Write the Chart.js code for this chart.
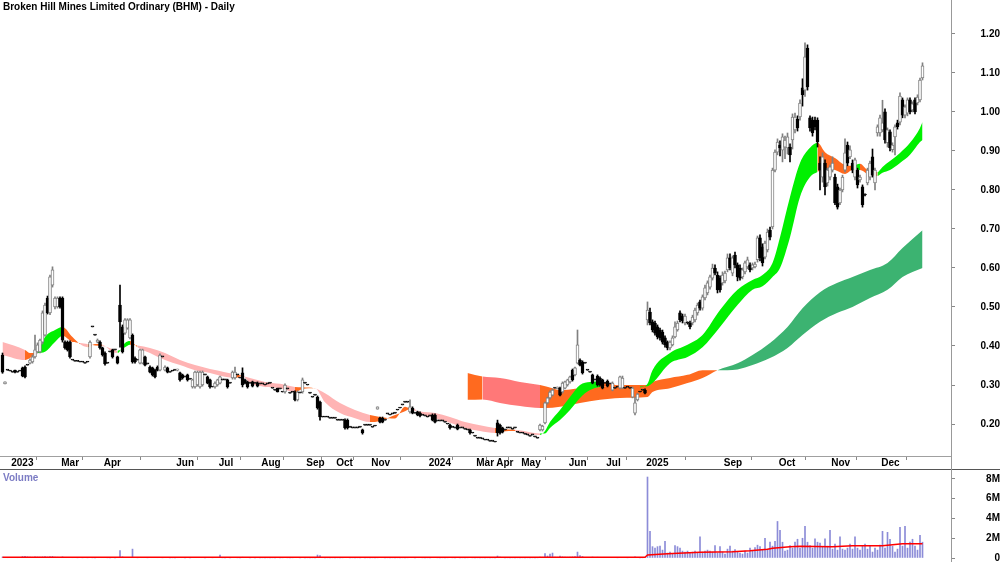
<!DOCTYPE html>
<html>
<head>
<meta charset="utf-8">
<title>BHM Daily</title>
<script src="https://cdn.jsdelivr.net/npm/chart.js@4.4.1/dist/chart.umd.min.js"></script>
<style>
body { margin: 0; background: #fff; }
#wrap { position: relative; width: 1000px; height: 562px; overflow: hidden; background: #fff; font-family: "Liberation Sans", Arial, sans-serif; }
.pane { position: absolute; left: 0; width: 1000px; }
#pricePane { top: 0; height: 470px; }
#volPane { top: 470px; height: 92px; }
.title { position: absolute; left: 3px; top: 1px; font-size: 10px; font-weight: bold; color: #000; white-space: nowrap; }
.vol-title { position: absolute; left: 3px; top: 472px; font-size: 10px; font-weight: bold; color: #7c7cc4; }
.hline { position: absolute; left: 0; top: 469px; width: 1000px; height: 1px; background: #555; }
.vline { position: absolute; left: 951px; top: 0; width: 1px; height: 562px; background: #999; }
</style>
</head>
<body>
<div id="wrap">
  <div class="pane" id="pricePane"><canvas id="priceChart"></canvas></div>
  <div class="pane" id="volPane"><canvas id="volChart"></canvas></div>
  <div class="hline"></div>
  <div class="vline"></div>
  <div class="title">Broken Hill Mines Limited Ordinary (BHM) - Daily</div>
  <div class="vol-title">Volume</div>
</div>
<script>
// daily bars, one per trading day (index 0 = first bar on the chart)
const open = [
0.377,0.303,0.338,0.336,0.333,0.338,0.333,0.336,0.344,0.346,
0.351,0.356,0.359,0.372,0.385,0.385,0.410,0.428,0.523,0.485,
0.556,0.500,0.500,0.523,0.523,0.410,0.410,0.410,0.364,0.361,
0.361,0.359,0.359,0.356,0.359,0.372,0.449,0.428,0.410,0.410,
0.395,0.382,0.356,0.385,0.390,0.390,0.372,0.505,0.449,0.433,
0.446,0.421,0.428,0.369,0.364,0.356,0.356,0.372,0.354,0.346,
0.344,0.338,0.346,0.338,0.372,0.338,0.344,0.333,0.336,0.338,
0.338,0.331,0.326,0.321,0.326,0.315,0.295,0.295,0.300,0.295,
0.300,0.326,0.321,0.313,0.295,0.295,0.300,0.305,0.313,0.313,
0.313,0.305,0.318,0.318,0.326,0.318,0.331,0.313,0.308,0.305,
0.308,0.305,0.305,0.303,0.303,0.300,0.303,0.305,0.292,0.287,
0.292,0.290,0.282,0.282,0.290,0.279,0.282,0.282,0.262,0.280,
0.282,0.305,0.300,0.279,0.269,0.274,0.269,0.256,0.218,0.218,
0.218,0.215,0.215,0.215,0.210,0.210,0.210,0.210,0.210,0.192,
0.190,0.190,0.190,0.192,0.185,0.197,0.197,0.197,0.192,0.195,
0.238,0.215,0.215,0.210,0.226,0.223,0.226,0.228,0.236,0.241,
0.249,0.256,0.256,0.231,0.241,0.228,0.231,0.228,0.223,0.221,
0.218,0.221,0.223,0.223,0.208,0.208,0.208,0.205,0.200,0.197,
0.192,0.190,0.197,0.190,0.190,0.187,0.185,0.185,0.177,0.169,
0.164,0.164,0.162,0.159,0.159,0.156,0.156,0.154,0.203,0.197,
0.190,0.185,0.190,0.190,0.187,0.190,0.179,0.177,0.177,0.174,
0.172,0.169,0.172,0.167,0.164,0.185,0.185,0.203,0.254,0.267,
0.274,0.292,0.290,0.292,0.282,0.292,0.300,0.308,0.338,0.326,
0.356,0.364,0.359,0.356,0.338,0.333,0.326,0.313,0.323,0.318,
0.313,0.305,0.310,0.303,0.287,0.292,0.295,0.292,0.292,0.292,
0.295,0.292,0.269,0.228,0.262,0.282,0.287,0.287,0.467,0.487,
0.462,0.459,0.449,0.441,0.436,0.421,0.410,0.395,0.403,0.423,
0.441,0.485,0.477,0.459,0.459,0.459,0.459,0.467,0.485,0.513,
0.497,0.523,0.536,0.551,0.574,0.600,0.582,0.574,0.562,0.567,
0.595,0.626,0.587,0.633,0.608,0.600,0.577,0.590,0.603,0.608,
0.600,0.603,0.621,0.677,0.654,0.628,0.646,0.697,0.705,0.851,
0.897,0.915,0.902,0.910,0.908,0.910,0.928,0.954,0.982,0.987,
1.062,1.056,1.164,0.985,0.979,0.979,0.979,0.869,0.833,0.869,
0.818,0.833,0.851,0.833,0.808,0.767,0.800,0.851,0.915,0.885,
0.869,0.833,0.851,0.826,0.808,0.787,0.818,0.833,0.885,0.818,
0.946,0.946,0.954,1.000,0.921,0.949,0.903,0.936,0.972,0.974,
1.031,0.992,0.997,1.031,1.005,1.031,1.023,1.031,1.087
];
const high = [
0.382,0.308,0.338,0.336,0.333,0.338,0.333,0.336,0.346,0.349,
0.351,0.367,0.377,0.428,0.408,0.418,0.490,0.510,0.528,0.582,
0.603,0.526,0.526,0.526,0.526,0.413,0.413,0.413,0.364,0.361,
0.361,0.359,0.359,0.356,0.359,0.413,0.449,0.428,0.418,0.413,
0.397,0.385,0.356,0.385,0.392,0.390,0.374,0.556,0.454,0.470,
0.470,0.470,0.431,0.372,0.364,0.392,0.392,0.374,0.354,0.349,
0.346,0.341,0.349,0.380,0.372,0.349,0.346,0.333,0.336,0.338,
0.341,0.333,0.328,0.321,0.328,0.315,0.315,0.336,0.336,0.336,
0.336,0.326,0.323,0.315,0.295,0.308,0.315,0.323,0.313,0.313,
0.315,0.305,0.336,0.346,0.326,0.318,0.344,0.315,0.310,0.305,
0.310,0.305,0.308,0.303,0.303,0.300,0.303,0.305,0.292,0.287,
0.292,0.290,0.282,0.303,0.290,0.279,0.282,0.285,0.285,0.280,
0.318,0.305,0.300,0.279,0.269,0.274,0.272,0.259,0.218,0.218,
0.218,0.215,0.215,0.215,0.210,0.210,0.210,0.213,0.213,0.192,
0.190,0.190,0.190,0.192,0.187,0.197,0.197,0.197,0.192,0.195,
0.244,0.218,0.218,0.210,0.226,0.223,0.226,0.228,0.236,0.241,
0.249,0.256,0.256,0.262,0.244,0.228,0.233,0.231,0.223,0.221,
0.218,0.221,0.226,0.226,0.208,0.208,0.208,0.205,0.200,0.200,
0.192,0.190,0.200,0.190,0.190,0.187,0.185,0.187,0.177,0.169,
0.164,0.164,0.162,0.159,0.159,0.156,0.156,0.154,0.210,0.200,
0.192,0.185,0.190,0.190,0.187,0.190,0.179,0.177,0.177,0.174,
0.172,0.169,0.172,0.167,0.164,0.200,0.197,0.256,0.269,0.285,
0.290,0.292,0.295,0.295,0.308,0.310,0.315,0.323,0.341,0.346,
0.441,0.367,0.362,0.356,0.338,0.333,0.328,0.313,0.326,0.321,
0.315,0.305,0.313,0.303,0.308,0.292,0.295,0.323,0.323,0.292,
0.295,0.292,0.295,0.269,0.279,0.282,0.287,0.290,0.513,0.497,
0.467,0.464,0.454,0.446,0.441,0.426,0.413,0.413,0.426,0.462,
0.464,0.490,0.482,0.482,0.462,0.464,0.479,0.497,0.510,0.518,
0.531,0.556,0.567,0.582,0.610,0.608,0.590,0.580,0.590,0.592,
0.636,0.636,0.631,0.641,0.613,0.608,0.600,0.618,0.628,0.613,
0.613,0.615,0.682,0.685,0.662,0.669,0.700,0.705,0.856,0.903,
0.931,0.926,0.944,0.938,0.946,0.918,0.995,0.997,0.990,1.031,
1.085,1.177,1.172,0.990,0.987,0.987,0.985,0.885,0.895,0.877,
0.856,0.864,0.885,0.841,0.815,0.805,0.838,0.931,0.923,0.913,
0.877,0.882,0.856,0.838,0.813,0.790,0.856,0.874,0.905,0.856,
0.967,0.992,1.030,1.008,0.959,0.954,0.921,0.967,0.979,1.049,
1.036,1.018,1.036,1.036,1.026,1.036,1.044,1.087,1.126
];
const low = [
0.330,0.303,0.338,0.336,0.333,0.331,0.333,0.336,0.321,0.318,
0.351,0.354,0.356,0.369,0.382,0.382,0.405,0.425,0.482,0.480,
0.551,0.495,0.497,0.497,0.410,0.392,0.387,0.369,0.364,0.361,
0.361,0.359,0.359,0.356,0.359,0.369,0.449,0.428,0.408,0.392,
0.374,0.351,0.356,0.385,0.369,0.390,0.354,0.397,0.382,0.430,
0.443,0.418,0.356,0.356,0.364,0.354,0.354,0.349,0.354,0.331,
0.323,0.318,0.336,0.336,0.372,0.336,0.331,0.333,0.336,0.338,
0.336,0.310,0.315,0.321,0.310,0.315,0.292,0.292,0.297,0.292,
0.297,0.326,0.303,0.292,0.295,0.292,0.297,0.303,0.313,0.313,
0.292,0.305,0.315,0.315,0.326,0.318,0.295,0.303,0.292,0.305,
0.295,0.305,0.295,0.303,0.303,0.300,0.303,0.305,0.292,0.287,
0.282,0.290,0.282,0.279,0.290,0.279,0.282,0.259,0.259,0.280,
0.279,0.305,0.300,0.279,0.269,0.274,0.238,0.210,0.218,0.218,
0.218,0.215,0.215,0.215,0.210,0.210,0.210,0.187,0.187,0.192,
0.190,0.190,0.190,0.192,0.174,0.197,0.197,0.197,0.192,0.195,
0.238,0.203,0.203,0.210,0.226,0.223,0.226,0.228,0.236,0.241,
0.249,0.256,0.256,0.228,0.226,0.228,0.221,0.218,0.223,0.221,
0.218,0.221,0.208,0.203,0.208,0.208,0.208,0.205,0.200,0.187,
0.192,0.190,0.185,0.190,0.190,0.187,0.185,0.174,0.177,0.169,
0.164,0.164,0.162,0.159,0.159,0.156,0.156,0.154,0.169,0.174,
0.177,0.185,0.190,0.190,0.187,0.190,0.179,0.177,0.177,0.174,
0.172,0.169,0.172,0.167,0.164,0.182,0.182,0.200,0.251,0.264,
0.272,0.292,0.290,0.272,0.279,0.290,0.297,0.305,0.310,0.323,
0.354,0.349,0.328,0.356,0.338,0.333,0.303,0.313,0.297,0.297,
0.290,0.305,0.295,0.303,0.285,0.292,0.295,0.290,0.290,0.292,
0.295,0.292,0.267,0.223,0.259,0.282,0.287,0.277,0.454,0.454,
0.436,0.428,0.418,0.415,0.405,0.397,0.390,0.390,0.400,0.421,
0.438,0.462,0.459,0.454,0.456,0.444,0.454,0.462,0.479,0.492,
0.492,0.518,0.531,0.546,0.569,0.582,0.536,0.538,0.556,0.562,
0.590,0.595,0.580,0.600,0.567,0.569,0.572,0.585,0.598,0.590,
0.595,0.600,0.615,0.618,0.605,0.623,0.641,0.672,0.700,0.846,
0.890,0.887,0.872,0.880,0.892,0.872,0.905,0.946,0.951,0.979,
1.015,1.040,1.056,0.951,0.938,0.954,0.910,0.800,0.820,0.787,
0.810,0.826,0.846,0.762,0.751,0.762,0.795,0.846,0.862,0.880,
0.844,0.826,0.805,0.820,0.756,0.785,0.813,0.826,0.833,0.800,
0.938,0.938,0.949,0.920,0.910,0.900,0.897,0.890,0.956,0.967,
0.985,0.985,0.990,0.995,1.000,0.995,1.018,1.026,1.082
];
const close = [
0.333,0.308,0.338,0.336,0.333,0.333,0.333,0.336,0.323,0.321,
0.351,0.364,0.372,0.390,0.403,0.415,0.485,0.505,0.485,0.577,
0.595,0.523,0.523,0.500,0.415,0.395,0.390,0.372,0.364,0.361,
0.361,0.359,0.359,0.356,0.359,0.410,0.449,0.428,0.415,0.395,
0.377,0.354,0.356,0.385,0.372,0.390,0.356,0.462,0.385,0.467,
0.467,0.467,0.359,0.359,0.364,0.390,0.390,0.351,0.354,0.333,
0.326,0.321,0.338,0.377,0.372,0.346,0.333,0.333,0.336,0.338,
0.341,0.313,0.318,0.321,0.313,0.315,0.313,0.333,0.333,0.333,
0.333,0.326,0.305,0.295,0.295,0.305,0.313,0.321,0.313,0.313,
0.295,0.305,0.333,0.333,0.326,0.318,0.300,0.305,0.295,0.305,
0.297,0.305,0.297,0.303,0.303,0.300,0.303,0.305,0.292,0.287,
0.282,0.290,0.282,0.300,0.290,0.279,0.282,0.262,0.282,0.280,
0.313,0.305,0.300,0.279,0.269,0.274,0.241,0.218,0.218,0.218,
0.218,0.215,0.215,0.215,0.210,0.210,0.210,0.190,0.190,0.192,
0.190,0.190,0.190,0.192,0.177,0.197,0.197,0.197,0.192,0.195,
0.244,0.205,0.205,0.210,0.226,0.223,0.226,0.228,0.236,0.241,
0.249,0.256,0.256,0.244,0.228,0.228,0.223,0.221,0.223,0.221,
0.218,0.221,0.210,0.205,0.208,0.208,0.208,0.205,0.200,0.190,
0.192,0.190,0.187,0.190,0.190,0.187,0.185,0.177,0.177,0.169,
0.164,0.164,0.162,0.159,0.159,0.156,0.156,0.154,0.177,0.177,
0.179,0.185,0.190,0.190,0.187,0.190,0.179,0.177,0.177,0.174,
0.172,0.169,0.172,0.167,0.164,0.197,0.195,0.254,0.267,0.282,
0.287,0.292,0.295,0.274,0.305,0.308,0.313,0.321,0.313,0.344,
0.403,0.351,0.331,0.356,0.338,0.333,0.305,0.313,0.300,0.300,
0.292,0.305,0.297,0.303,0.305,0.292,0.295,0.321,0.318,0.292,
0.295,0.292,0.292,0.254,0.277,0.282,0.287,0.279,0.492,0.459,
0.441,0.433,0.423,0.421,0.410,0.403,0.395,0.410,0.421,0.449,
0.459,0.467,0.464,0.477,0.459,0.449,0.474,0.492,0.505,0.497,
0.526,0.549,0.562,0.577,0.600,0.587,0.544,0.544,0.582,0.587,
0.626,0.600,0.626,0.608,0.577,0.574,0.595,0.613,0.621,0.595,
0.608,0.610,0.677,0.626,0.613,0.664,0.692,0.679,0.851,0.897,
0.923,0.908,0.936,0.928,0.936,0.890,0.987,0.987,0.959,1.023,
1.044,1.141,1.064,0.959,0.946,0.962,0.923,0.851,0.885,0.808,
0.851,0.859,0.869,0.767,0.756,0.800,0.833,0.895,0.869,0.903,
0.851,0.877,0.813,0.833,0.762,0.787,0.851,0.869,0.838,0.851,
0.962,0.985,0.972,0.928,0.954,0.908,0.915,0.962,0.962,1.041,
0.992,1.013,1.031,1.000,1.021,1.000,1.038,1.082,1.118
];
// volume in millions of shares
const volume = [
0.10,0.05,0.03,0.03,0.04,0.06,0.03,0.04,0.15,0.18,
0.12,0.10,0.08,0.12,0.10,0.09,0.12,0.14,0.10,0.15,
0.16,0.10,0.08,0.07,0.12,0.06,0.05,0.08,0.03,0.03,
0.02,0.03,0.02,0.03,0.02,0.06,0.02,0.02,0.04,0.05,
0.05,0.06,0.02,0.02,0.05,0.02,0.04,0.74,0.12,0.08,
0.06,0.08,0.90,0.05,0.02,0.06,0.05,0.04,0.02,0.05,
0.05,0.06,0.03,0.07,0.02,0.03,0.04,0.02,0.02,0.02,
0.03,0.05,0.04,0.02,0.05,0.02,0.06,0.08,0.06,0.07,
0.06,0.02,0.05,0.04,0.02,0.03,0.04,0.30,0.02,0.02,
0.05,0.02,0.06,0.07,0.02,0.02,0.08,0.04,0.05,0.02,
0.04,0.02,0.03,0.02,0.02,0.02,0.02,0.02,0.02,0.02,
0.03,0.02,0.02,0.05,0.02,0.02,0.02,0.06,0.05,0.02,
0.07,0.02,0.02,0.02,0.02,0.02,0.30,0.25,0.03,0.02,
0.02,0.02,0.02,0.02,0.02,0.02,0.02,0.06,0.05,0.02,
0.02,0.02,0.02,0.02,0.05,0.02,0.02,0.02,0.02,0.02,
0.02,0.06,0.05,0.02,0.02,0.02,0.02,0.02,0.02,0.02,
0.02,0.02,0.02,0.06,0.05,0.02,0.04,0.04,0.02,0.02,
0.02,0.02,0.05,0.06,0.02,0.02,0.02,0.02,0.02,0.04,
0.02,0.02,0.04,0.02,0.02,0.02,0.02,0.04,0.02,0.02,
0.02,0.02,0.02,0.02,0.02,0.02,0.02,0.02,0.20,0.10,
0.05,0.02,0.02,0.02,0.02,0.02,0.02,0.02,0.02,0.02,
0.02,0.02,0.02,0.02,0.02,0.10,0.08,0.45,0.20,0.40,
0.50,0.10,0.08,0.20,0.12,0.10,0.08,0.10,0.12,0.15,
0.60,0.25,0.15,0.05,0.05,0.04,0.10,0.05,0.08,0.06,
0.07,0.03,0.05,0.03,0.06,0.03,0.02,0.08,0.07,0.03,
0.02,0.03,0.05,0.12,0.06,0.02,0.02,0.04,8.2,2.7,
1.15,1.0,1.15,1.2,0.8,1.7,0.5,0.6,0.4,1.25,
1.15,1.0,0.7,0.6,0.7,0.5,0.6,0.7,0.5,2.15,
0.6,0.7,0.8,0.7,0.6,1.25,0.5,1.15,0.6,0.4,
0.9,1.2,0.7,0.85,0.6,0.5,0.4,0.7,0.5,1.0,
0.7,1.05,1.3,1.15,0.8,2.0,0.9,1.6,1.2,1.7,
3.7,2.8,1.6,0.7,0.8,1.25,1.0,1.6,1.9,1.0,
2.0,3.2,1.6,1.25,1.0,1.95,1.6,1.5,1.1,1.95,
1.2,2.8,0.9,1.4,0.8,2.15,0.9,0.8,1.0,1.4,
0.9,2.15,1.0,0.8,1.2,1.4,0.9,1.25,0.6,1.0,
0.8,1.3,2.7,1.0,2.6,1.9,1.2,0.6,0.9,3.1,
1.2,3.2,1.0,1.6,1.9,1.2,0.8,2.3,1.6
];
// volume moving average, read at turning points
const volMaIdx = [0, 257, 258, 266, 279, 292, 299, 306, 308, 315, 319, 332, 340, 352, 360, 368];
const volMa = [0.08, 0.08, 0.30, 0.44, 0.57, 0.64, 0.74, 0.88, 0.98, 1.15, 1.20, 1.15, 1.25, 1.25, 1.45, 1.45];

// short-term ribbon (fast / slow average), read at turning points
const shortIdx = [0,9,11,14,17,21,24,28,31,34,37,40,44,46,49,51,54,59,65,71,77,83,89,93,96,99,105,111,117,120,125,129,135,141,147,151,157,161,164,167,173,179,185,191,197,200,205,211,215,217,219,223,227,231,235,239,243,249,255,258,260,267,274,280,287,294,300,304,308,311,315,319,323,326,329,333,337,340,343,346,350,352,355,359,363,367,368];
const shortFast = [0.377,0.364,0.369,0.385,0.423,0.441,0.449,0.423,0.405,0.397,0.405,0.403,0.385,0.382,0.408,0.413,0.397,0.382,0.364,0.351,0.338,0.331,0.321,0.318,0.323,0.305,0.295,0.292,0.282,0.290,0.292,0.256,0.228,0.215,0.205,0.208,0.223,0.233,0.241,0.226,0.215,0.203,0.190,0.182,0.177,0.181,0.182,0.173,0.172,0.182,0.205,0.236,0.269,0.300,0.308,0.309,0.305,0.292,0.294,0.303,0.338,0.382,0.403,0.428,0.492,0.544,0.569,0.582,0.613,0.679,0.782,0.869,0.908,0.921,0.897,0.882,0.864,0.862,0.867,0.851,0.846,0.859,0.874,0.895,0.921,0.959,0.974];
const shortSlow = [0.410,0.390,0.382,0.382,0.385,0.410,0.426,0.410,0.408,0.405,0.401,0.400,0.392,0.388,0.397,0.403,0.401,0.395,0.382,0.364,0.351,0.341,0.333,0.328,0.323,0.318,0.308,0.303,0.295,0.294,0.291,0.279,0.254,0.236,0.223,0.218,0.214,0.244,0.236,0.232,0.228,0.218,0.205,0.197,0.190,0.187,0.185,0.179,0.176,0.176,0.190,0.210,0.236,0.267,0.287,0.295,0.297,0.295,0.296,0.297,0.305,0.356,0.372,0.397,0.449,0.505,0.544,0.553,0.577,0.600,0.679,0.782,0.833,0.846,0.856,0.851,0.841,0.851,0.851,0.841,0.836,0.844,0.851,0.869,0.890,0.923,0.928];

// long-term ribbon (fast / slow average)
const longIdx = [186,192,199,207,215,220,223,231,239,247,258,260,267,274,280,286,294,300,307,314,320,327,334,340,347,354,360,368];
const longFast = [0.262,0.263,0.254,0.246,0.241,0.242,0.244,0.254,0.262,0.267,0.269,0.282,0.292,0.305,0.318,0.338,0.356,0.377,0.408,0.449,0.497,0.538,0.562,0.577,0.595,0.613,0.651,0.697];
const longSlow = [0.331,0.322,0.318,0.308,0.300,0.292,0.287,0.292,0.295,0.300,0.300,0.308,0.318,0.326,0.338,0.338,0.340,0.351,0.369,0.395,0.428,0.462,0.485,0.500,0.523,0.544,0.577,0.600];

// x axis: first bar of each labelled month
const monthLabels = ['2023','Mar','Apr','Jun','Jul','Aug','Sep','Oct','Nov','2024','Mar','Apr','May','Jun','Jul','2025','Sep','Oct','Nov','Dec'];
const monthStart = [4,24,41,70,87,104,122,134,148,171,190,198,208,227,242,258,289,311,332,352];
const priceTicks = [0.2,0.3,0.4,0.5,0.6,0.7,0.8,0.9,1.0,1.1,1.2];
const volTicks = [0,2,4,6,8];

const FONT = {family: '"Liberation Sans", Arial, sans-serif', size: 10, weight: 'bold'};
const X_MIN = -1, X_MAX = 379.4;
const CLEAR = 'rgba(0,0,0,0)';

Chart.defaults.font.family = FONT.family;

const bodyColor = i => close[i] > open[i] ? '#ffffff' : (close[i] < open[i] ? '#000000' : '#333333');
const edgeColor = i => close[i] > open[i] ? '#808080' : '#000000';

// green = fast above slow and rising, pink = below and falling, orange = mixed
const trendColor = (fast, slow, k, cols) => {
    if (k + 1 >= fast.length) return cols.mixed;
    const rising = fast[k + 1] > fast[k];
    const above = fast[k] + fast[k + 1] > slow[k] + slow[k + 1];
    if (rising && above) return cols.up;
    if (!rising && !above) return cols.down;
    return cols.mixed;
}

const ribbon = (idx, fast, slow, cols, order) => {
    const pts = arr => idx.map((x, k) => ({x: x, y: arr[k]}));
    const base = {type: 'line', borderColor: CLEAR, borderWidth: 0, pointRadius: 0, cubicInterpolationMode: 'monotone'};
    return [
        Object.assign({}, base, {
            data: pts(fast), order: order, fill: '+1',
            segment: {backgroundColor: c => trendColor(fast, slow, c.p0DataIndex, cols)}
        }),
        Object.assign({}, base, {data: pts(slow), order: order + 1, fill: false})
    ];
}

const fixAxis = (w, h) => scale => {
    if (w !== null) scale.width = w;
    if (h !== null) scale.height = h;
    scale.paddingTop = 0;
    scale.paddingBottom = 0;
    scale.paddingLeft = 0;
    scale.paddingRight = 0;
}

const shortCols = {up: '#00f000', mixed: '#ff6a1f', down: '#ffb4b4'};
const longCols = {up: '#3cb371', mixed: '#ff6a1f', down: '#ff7878'};

const bars = open.map((o, i) => i);

new Chart('priceChart', {
    type: 'bar',
    data: {
        datasets: [
            ...ribbon(longIdx, longFast, longSlow, longCols, 4),
            ...ribbon(shortIdx, shortFast, shortSlow, shortCols, 2),
            {
                type: 'bar',
                data: bars.map(i => ({x: i, y: [low[i], high[i]]})),
                order: 1,
                grouped: false,
                barThickness: 1,
                borderWidth: 0,
                backgroundColor: c => edgeColor(c.dataIndex)
            },
            {
                type: 'bar',
                data: bars.map(i => ({x: i, y: [open[i], close[i]]})),
                order: 0,
                grouped: false,
                barThickness: 3,
                minBarLength: 1,
                borderWidth: 1,
                borderSkipped: false,
                backgroundColor: c => bodyColor(c.dataIndex),
                borderColor: c => edgeColor(c.dataIndex)
            }
        ]
    },
    options: {
        responsive: true,
        maintainAspectRatio: false,
        animation: false,
        events: [],
        layout: {padding: 0, autoPadding: false},
        plugins: {legend: {display: false}, tooltip: {enabled: false}},
        scales: {
            x: {
                type: 'linear',
                min: X_MIN,
                max: X_MAX,
                offset: false,
                afterBuildTicks: s => { s.ticks = monthStart.map(v => ({value: v - 0.5})) },
                afterFit: fixAxis(null, 14),
                grid: {drawOnChartArea: false, drawTicks: true, tickLength: 4, color: '#888888'},
                border: {display: true, color: '#a0a0a0'},
                ticks: {
                    autoSkip: false,
                    maxRotation: 0,
                    align: 'start',
                    padding: -3,
                    color: '#000',
                    font: FONT,
                    callback: (v, k) => monthLabels[k]
                }
            },
            y: {
                position: 'right',
                min: 0.118,
                max: 1.287,
                afterBuildTicks: s => { s.ticks = priceTicks.map(v => ({value: v})) },
                afterFit: fixAxis(49, null),
                grid: {drawOnChartArea: false, drawTicks: true, tickLength: 4, color: '#888888'},
                border: {display: false},
                ticks: {
                    crossAlign: 'far',
                    padding: 22,
                    color: '#000',
                    font: FONT,
                    callback: v => v.toFixed(2)
                }
            }
        }
    }
});

new Chart('volChart', {
    type: 'bar',
    data: {
        datasets: [
            {
                type: 'line',
                data: volMaIdx.map((x, k) => ({x: x, y: volMa[k]})),
                order: 0,
                borderColor: '#ff0000',
                borderWidth: 1.5,
                pointRadius: 0,
                tension: 0
            },
            {
                type: 'bar',
                data: bars.map(i => ({x: i, y: volume[i]})),
                order: 1,
                barThickness: 1,
                backgroundColor: '#8c8cd8'
            }
        ]
    },
    options: {
        responsive: true,
        maintainAspectRatio: false,
        animation: false,
        events: [],
        layout: {padding: 0, autoPadding: false},
        plugins: {legend: {display: false}, tooltip: {enabled: false}},
        scales: {
            x: {type: 'linear', min: X_MIN, max: X_MAX, offset: false, display: false},
            y: {
                position: 'right',
                min: -0.405,
                max: 8.911,
                afterBuildTicks: s => { s.ticks = volTicks.map(v => ({value: v})) },
                afterFit: fixAxis(49, null),
                grid: {drawOnChartArea: false, drawTicks: true, tickLength: 4, color: '#888888'},
                border: {display: false},
                ticks: {
                    crossAlign: 'far',
                    padding: 27,
                    color: '#000',
                    font: FONT,
                    callback: v => v === 0 ? '0' : v + 'M'
                }
            }
        }
    }
});
</script>
</body>
</html>
